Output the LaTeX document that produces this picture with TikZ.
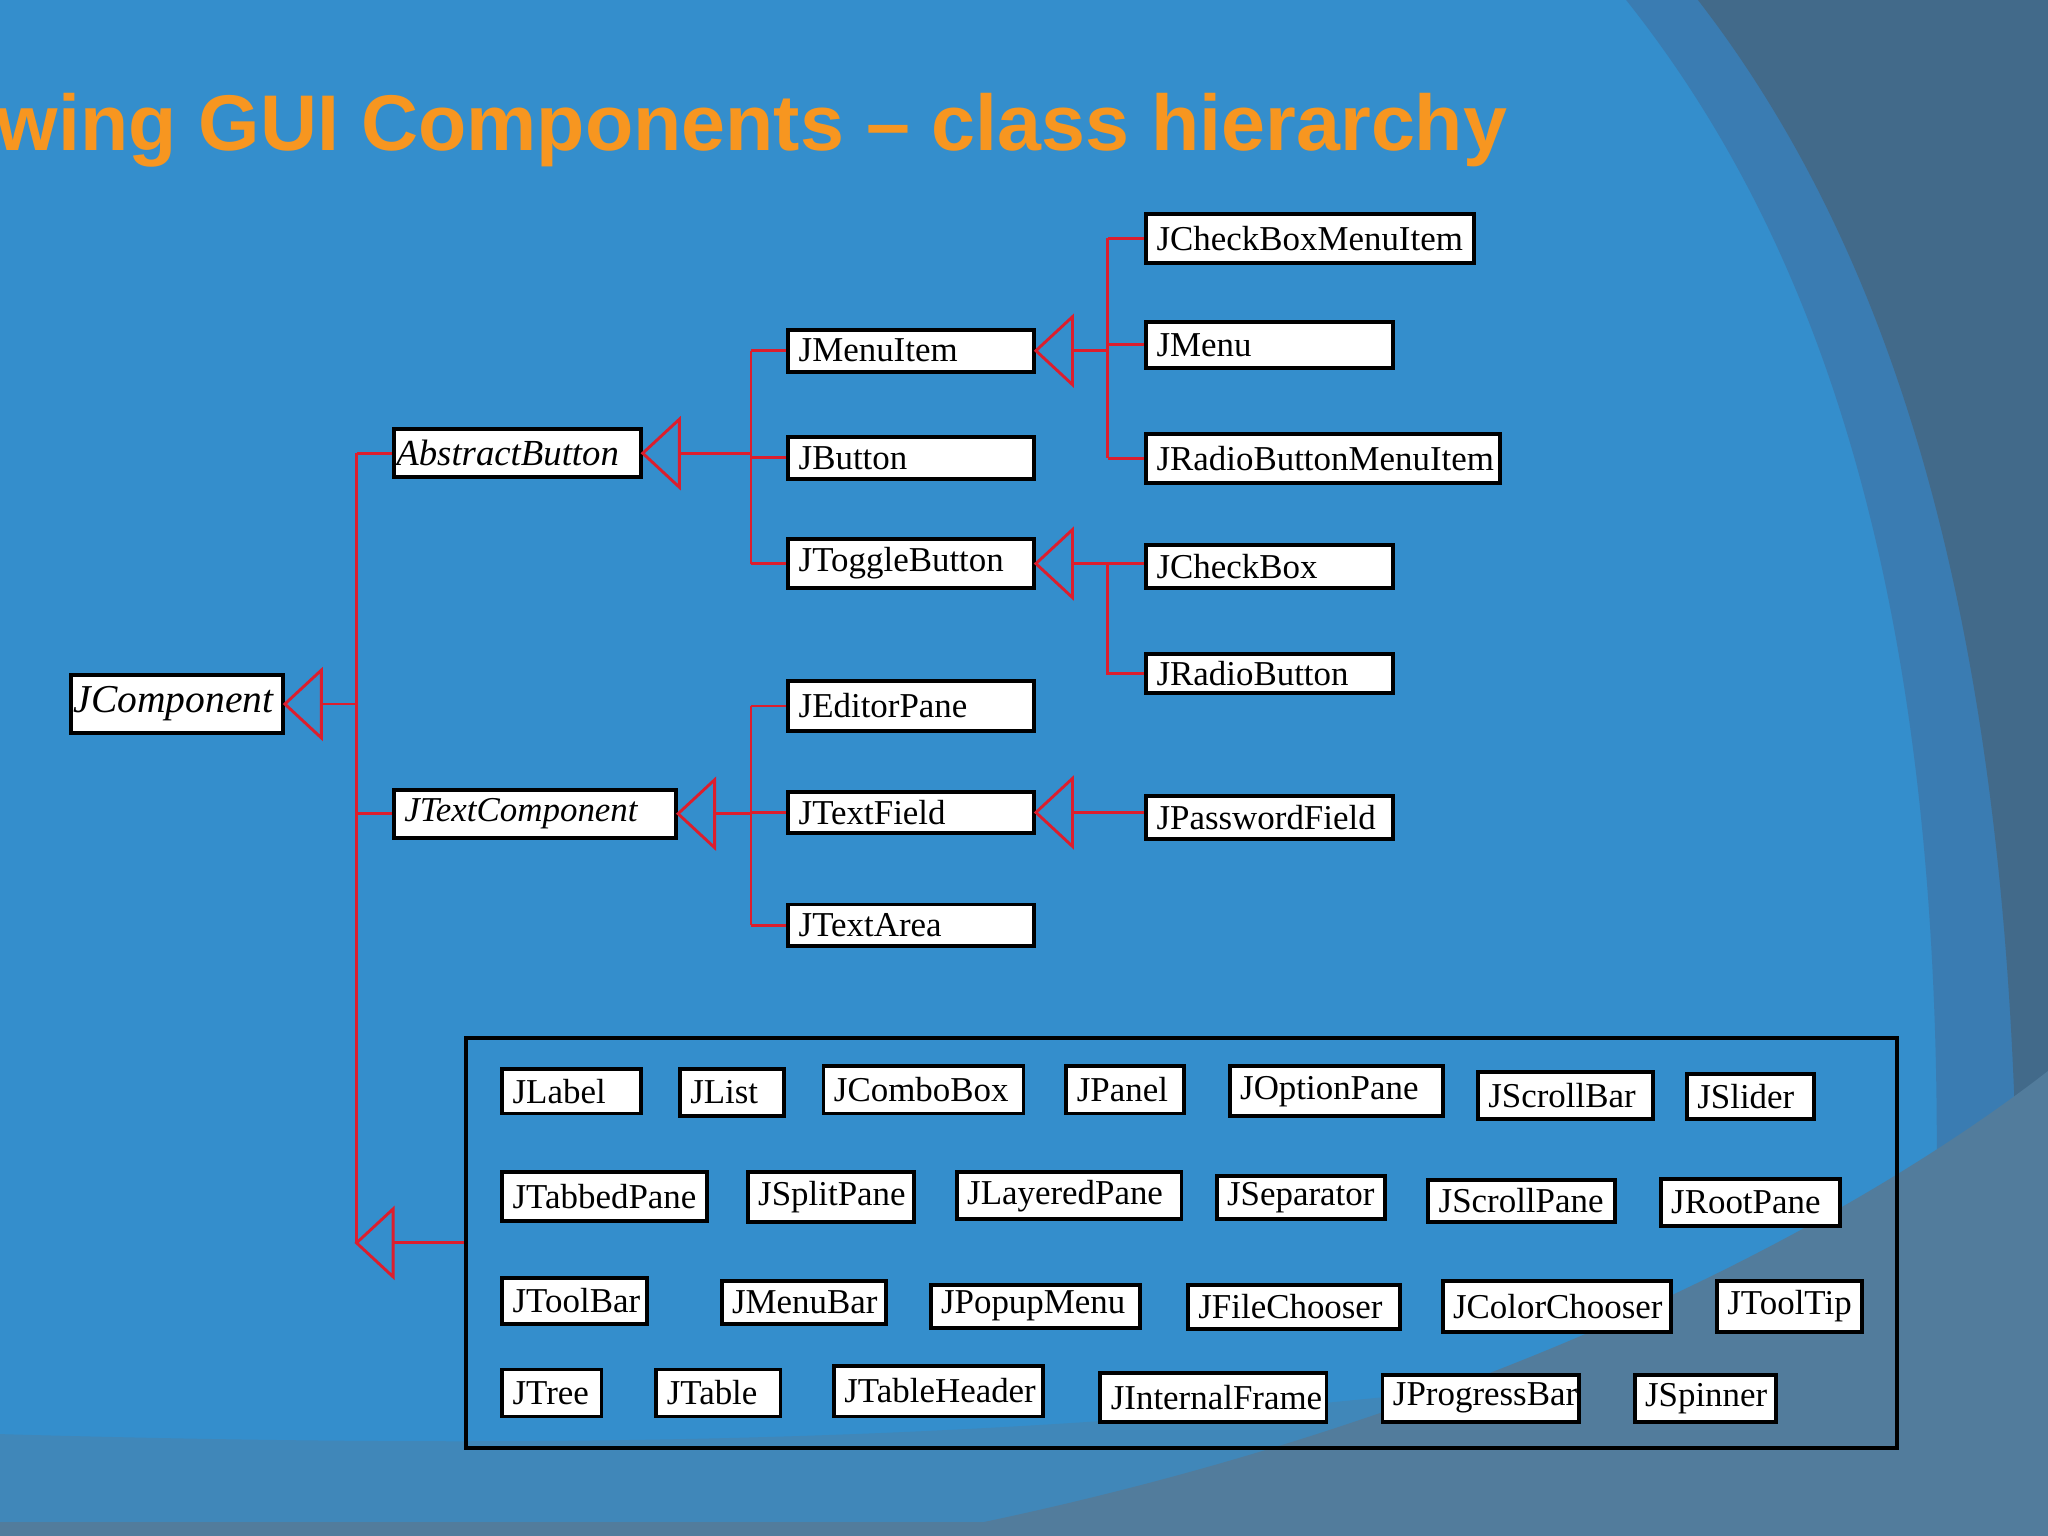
\documentclass[tikz,border=0pt]{standalone}
\usepackage{fontspec}
\setmainfont{Liberation Serif}
\newfontfamily\titlefont{Liberation Sans}
\definecolor{bgblue}{RGB}{52,142,204}
\definecolor{darkblue}{RGB}{66,106,138}
\definecolor{midblue}{RGB}{58,124,178}
\definecolor{bandgray}{RGB}{82,124,156}
\definecolor{orng}{RGB}{247,150,32}
\definecolor{lnred}{RGB}{220,30,45}
\tikzset{
  cls/.style={draw=black, line width=0.3mm, fill=white, inner ysep=0pt, inner xsep=0.8mm, align=left, font=\fontsize{7.6pt}{8pt}\selectfont},
  rel/.style={draw=lnred, line width=0.22mm},
}
\newcommand{\bx}[7][]{%
  \pgfmathsetmacro{\bw}{(#5-#3)*0.1-1.6}%
  \pgfmathsetmacro{\bh}{(#6-#4)*0.1}%
  \node[cls, anchor=north west, text width=\bw mm, minimum height=\bh mm, #1] (#2) at (#3,#4) {#7};}
\newcommand{\inh}[2]{%
  \draw[rel] (#1.east) -- ++(28,26) -- ++(0,-52) -- cycle;
  \coordinate (#2) at ([xshift=0.28cm]#1.east);}
\begin{document}
\begin{tikzpicture}[x=0.01cm,y=-0.01cm]
\clip (0,0) rectangle (1568,1176);
\fill[bgblue] (0,0) rectangle (1568,1176);
\fill[midblue] (1245,0) .. controls (1420,220) and (1520,560) .. (1470,1176) -- (1568,1176) -- (1568,0) -- cycle;
\fill[darkblue] (1300,0) .. controls (1470,220) and (1568,560) .. (1540,1176) -- (1568,1176) -- (1568,0) -- cycle;
\fill[bgblue!60!bandgray] (0,1098) .. controls (600,1115) and (1000,1095) .. (1568,1000) -- (1568,1176) -- (0,1176) -- cycle;
\fill[bandgray] (700,1176) .. controls (1100,1100) and (1400,950) .. (1568,820) -- (1568,1176) -- cycle;
\fill[bandgray] (0,1165) -- (1568,1165) -- (1568,1176) -- (0,1176) -- cycle;
\node[anchor=base west, inner sep=0, text=orng, font=\titlefont\bfseries\fontsize{17.2pt}{19pt}\selectfont] (title) at (-3,115) {wing GUI Components – class hierarchy};

\bx[font=\fontsize{8.6pt}{10pt}\selectfont\itshape, inner xsep=0.2mm, text width=15.8mm]{jc}{53}{515}{215}{560}{JComponent}
\bx[font=\fontsize{8pt}{9pt}\selectfont\itshape, inner xsep=0.2mm, text width=18.5mm]{ab}{300}{327}{489}{364}{AbstractButton}
\bx[font=\fontsize{7.6pt}{8pt}\selectfont\itshape]{tc}{300}{603}{516}{640}{JTextComponent}
\bx{mi}{602}{251}{790}{283}{JMenuItem}
\bx{bt}{602}{333}{790}{365}{JButton}
\bx{tb}{602}{411}{790}{449}{JToggleButton}
\bx{ep}{602}{520}{790}{558}{JEditorPane}
\bx{tf}{602}{605}{790}{636}{JTextField}
\bx{ta}{602}{691}{790}{723}{JTextArea}
\bx{cbm}{876}{162}{1127}{200}{JCheckBoxMenuItem}
\bx{mn}{876}{245}{1065}{280}{JMenu}
\bx{rbm}{876}{331}{1147}{368}{JRadioButtonMenuItem}
\bx{cb}{876}{416}{1065}{449}{JCheckBox}
\bx{rb}{876}{499}{1065}{529}{JRadioButton}
\bx{pf}{876}{608}{1065}{641}{JPasswordField}

\node[draw=black, line width=0.3mm, anchor=north west, minimum width=10.95cm, minimum height=3.14cm, inner sep=0] (grp) at (355,793) {};
\bx{a1}{383}{817}{489}{851}{JLabel}
\bx{a2}{519}{817}{599}{853}{JList}
\bx{a3}{629}{815}{782}{851}{JComboBox}
\bx{a4}{815}{815}{905}{851}{JPanel}
\bx{a5}{940}{815}{1103}{853}{JOptionPane}
\bx{a6}{1130}{819}{1264}{855}{JScrollBar}
\bx{a7}{1290}{821}{1387}{855}{JSlider}
\bx{b1}{383}{896}{540}{933}{JTabbedPane}
\bx{b2}{571}{896}{698}{934}{JSplitPane}
\bx{b3}{731}{896}{903}{932}{JLayeredPane}
\bx{b4}{930}{899}{1059}{932}{JSeparator}
\bx{b5}{1092}{902}{1235}{934}{JScrollPane}
\bx{b6}{1270}{901}{1407}{937}{JRootPane}
\bx{c1}{383}{977}{494}{1012}{JToolBar}
\bx{c2}{551}{979}{677}{1012}{JMenuBar}
\bx{c3}{711}{982}{871}{1015}{JPopupMenu}
\bx{c4}{908}{982}{1070}{1016}{JFileChooser}
\bx{c5}{1103}{979}{1278}{1018}{JColorChooser}
\bx{c6}{1313}{979}{1424}{1018}{JToolTip}
\bx{d1}{383}{1047}{459}{1083}{JTree}
\bx{d2}{501}{1047}{596}{1083}{JTable}
\bx{d3}{637}{1044}{797}{1083}{JTableHeader}
\bx{d4}{841}{1050}{1014}{1087}{JInternalFrame}
\bx{d5}{1057}{1051}{1207}{1087}{JProgressBar}
\bx{d6}{1250}{1051}{1358}{1087}{JSpinner}

% JComponent hierarchy
\inh{jc}{jcb}
\coordinate (busA) at (273,0);
\draw[rel] (jcb) -- (busA |- jcb);
\draw[rel] (busA |- ab.west) -- (busA |- grp.west);
\draw[rel] (busA |- ab.west) -- (ab.west);
\draw[rel] (busA |- tc.west) -- (tc.west);
\coordinate (gt) at (busA |- grp.west);
\draw[rel] (gt) -- ++(28,26) -- ++(0,-52) -- cycle;
\draw[rel] ([xshift=0.28cm]gt) -- (grp.west);

% AbstractButton
\inh{ab}{abb}
\coordinate (busB) at (575,0);
\draw[rel] (abb) -- (busB |- abb);
\draw[rel] (busB |- mi.west) -- (busB |- tb.west);
\draw[rel] (busB |- mi.west) -- (mi.west);
\draw[rel] (busB |- bt.west) -- (bt.west);
\draw[rel] (busB |- tb.west) -- (tb.west);

% JTextComponent
\inh{tc}{tcb}
\draw[rel] (tcb) -- (busB |- tcb);
\draw[rel] (busB |- ep.west) -- (busB |- ta.west);
\draw[rel] (busB |- ep.west) -- (ep.west);
\draw[rel] (busB |- tf.west) -- (tf.west);
\draw[rel] (busB |- ta.west) -- (ta.west);

% JMenuItem
\inh{mi}{mib}
\coordinate (busC) at (848,0);
\draw[rel] (mib) -- (busC |- mib);
\draw[rel] (busC |- cbm.west) -- (busC |- rbm.west);
\draw[rel] (busC |- cbm.west) -- (cbm.west);
\draw[rel] (busC |- mn.west) -- (mn.west);
\draw[rel] (busC |- rbm.west) -- (rbm.west);

% JToggleButton
\inh{tb}{tbb}
\draw[rel] (tbb) -- (tbb -| cb.west);
\draw[rel] (busC |- tbb) -- (busC |- rb.west) -- (rb.west);

% JTextField
\inh{tf}{tfb}
\draw[rel] (tfb) -- (tfb -| pf.west);
\end{tikzpicture}
\end{document}
